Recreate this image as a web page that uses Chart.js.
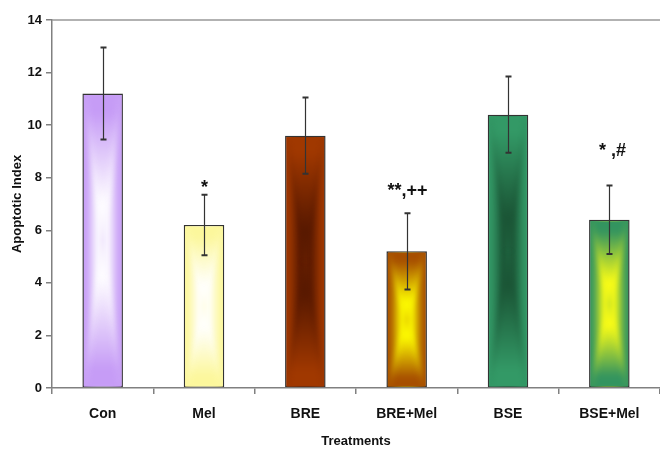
<!DOCTYPE html>
<html>
<head>
<meta charset="utf-8">
<script src="https://cdn.jsdelivr.net/npm/chart.js@4.4.0/dist/chart.umd.min.js"></script>
<style>
  html, body { margin: 0; padding: 0; background: #fff; }
</style>
</head>
<body>
<canvas id="apoptoticIndex" width="660" height="452"></canvas>
<script>
var treatments = ['Con', 'Mel', 'BRE', 'BRE+Mel', 'BSE', 'BSE+Mel'];
var meanIndex = [11.2, 6.2, 9.6, 5.2, 10.4, 6.4];
var errIndex = [1.75, 1.15, 1.45, 1.45, 1.45, 1.3];
var sigMarks = ['', '*', '', '**,++', '', '* ,#'];
var yTicks = [0, 2, 4, 6, 8, 10, 12, 14];

// outer colour and centre colour of each bar's "from centre" fill
var edgeColors = ['#c69cf6', '#fcf79c', '#a03800', '#a64e00', '#339966', '#33945f'];
var centerColors = ['#ffffff', '#ffffff', '#561800', '#ffff00', '#1a5334', '#ffff14'];

function addStops(g, edge, mid) {
    g.addColorStop(0, edge);
    g.addColorStop(0.12, edge);
    g.addColorStop(0.75, mid);
    g.addColorStop(1, mid);
    return g;
}

// paints every bar with a rectangular gradient (light/dark towards the centre)
var barShading = {
    id: 'barShading',
    afterDatasetsDraw: function (chart) {
        var ctx = chart.ctx;
        chart.getDatasetMeta(0).data.forEach(function (bar, i) {
            var p = bar.getProps(['x', 'y', 'base', 'width'], true);
            var l = p.x - p.width / 2 + 1.5, r = p.x + p.width / 2 - 1.5;
            var t = p.y + 1.5, b = p.base - 0.75;
            var cx = p.x, cy = (t + b) / 2;
            var edge = edgeColors[i], mid = centerColors[i];
            ctx.save();
            ctx.beginPath();
            ctx.rect(l, t, r - l, b - t);
            ctx.clip();
            ctx.filter = 'blur(3px)';
            ctx.fillStyle = addStops(ctx.createLinearGradient(l, 0, cx, 0), edge, mid);
            ctx.fillRect(l - 6, t - 6, cx - l + 6.5, b - t + 12);
            ctx.fillStyle = addStops(ctx.createLinearGradient(r, 0, cx, 0), edge, mid);
            ctx.fillRect(cx - 0.5, t - 6, r - cx + 6.5, b - t + 12);
            ctx.fillStyle = addStops(ctx.createLinearGradient(0, t, 0, cy), edge, mid);
            ctx.beginPath();
            ctx.moveTo(l - 6, t - 6); ctx.lineTo(r + 6, t - 6); ctx.lineTo(r, t); ctx.lineTo(cx, cy); ctx.lineTo(l, t); ctx.closePath();
            ctx.fill();
            ctx.fillStyle = addStops(ctx.createLinearGradient(0, b, 0, cy), edge, mid);
            ctx.beginPath();
            ctx.moveTo(l - 6, b + 6); ctx.lineTo(r + 6, b + 6); ctx.lineTo(r, b); ctx.lineTo(cx, cy); ctx.lineTo(l, b); ctx.closePath();
            ctx.fill();
            ctx.restore();
        });
    }
};

// error bars, significance marks and the top frame line
var errorBars = {
    id: 'errorBars',
    afterDatasetsDraw: function (chart, args, opts) {
        var ctx = chart.ctx;
        var y = chart.scales.y;
        var area = chart.chartArea;
        ctx.save();
        ctx.strokeStyle = '#999';
        ctx.lineWidth = 1.5;
        ctx.beginPath();
        ctx.moveTo(area.left, area.top);
        ctx.lineTo(area.right, area.top);
        ctx.stroke();

        chart.getDatasetMeta(0).data.forEach(function (bar, i) {
            var x = Math.round(bar.getProps(['x'], true).x) + 0.5;
            var hi = y.getPixelForValue(meanIndex[i] + errIndex[i]);
            var lo = y.getPixelForValue(meanIndex[i] - errIndex[i]);
            ctx.strokeStyle = '#333';
            ctx.lineWidth = 1.2;
            ctx.beginPath();
            ctx.moveTo(x, hi); ctx.lineTo(x, lo);
            ctx.stroke();
            ctx.lineWidth = 2;
            ctx.beginPath();
            ctx.moveTo(x - 3, hi); ctx.lineTo(x + 3, hi);
            ctx.moveTo(x - 3, lo); ctx.lineTo(x + 3, lo);
            ctx.stroke();
            if (sigMarks[i]) {
                ctx.fillStyle = '#111';
                ctx.font = 'bold 18px "Liberation Sans", Arial, sans-serif';
                ctx.textAlign = 'center';
                ctx.textBaseline = 'alphabetic';
                ctx.fillText(sigMarks[i], x + opts.shift[i], hi - opts.lift[i]);
            }
        });
        ctx.restore();
    }
};

var axisColor = '#808080';
var fontFace = '"Liberation Sans", Arial, sans-serif';

var ctx = document.getElementById('apoptoticIndex').getContext('2d');
var chart = new Chart(ctx, {
    type: 'bar',
    data: {
        labels: treatments,
        datasets: [{
            data: meanIndex,
            backgroundColor: edgeColors,
            borderColor: '#333333',
            borderWidth: 1.5,
            borderSkipped: false,
            categoryPercentage: 1,
            barPercentage: 0.4
        }]
    },
    options: {
        responsive: false,
        animation: false,
        layout: { padding: { top: 20, right: 0, left: 0, bottom: 0 } },
        plugins: {
            legend: { display: false },
            tooltip: { enabled: false },
            errorBars: {
                lift: [0, 2, 0, 17, 0, 30],
                shift: [0, 0, 0, 0, 0, 3]
            }
        },
        scales: {
            x: {
                offset: true,
                grid: { offset: true, drawOnChartArea: false, tickLength: 6, color: axisColor, lineWidth: 1.5 },
                border: { color: axisColor, width: 1.5 },
                ticks: { color: '#111', padding: 12, font: { family: fontFace, size: 14, weight: 'bold' } },
                title: {
                    display: true, text: 'Treatments', color: '#111',
                    font: { family: fontFace, size: 13, weight: 'bold' },
                    padding: { top: 0, bottom: 3 }
                },
                afterFit: function (scale) { scale.height = 64; }
            },
            y: {
                min: 0,
                max: 14,
                afterBuildTicks: function (scale) {
                    scale.ticks = yTicks.map(function (v) { return { value: v }; });
                },
                grid: { drawOnChartArea: false, tickLength: 6, color: axisColor, lineWidth: 1.5 },
                border: { color: axisColor, width: 1.5 },
                ticks: { color: '#111', padding: 4, font: { family: fontFace, size: 13, weight: 'bold' } },
                title: {
                    display: true, text: 'Apoptotic Index', color: '#111',
                    font: { family: fontFace, size: 13, weight: 'bold' },
                    padding: { top: 10, bottom: 0 }
                },
                afterFit: function (scale) { scale.width = 52; }
            }
        }
    },
    plugins: [barShading, errorBars]
});
</script>
</body>
</html>
